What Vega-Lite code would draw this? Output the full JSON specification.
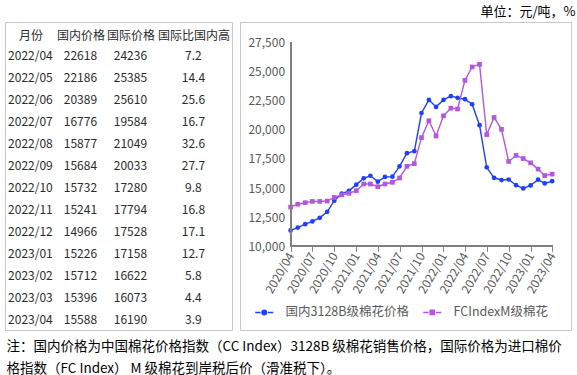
{
  "$schema": "https://vega.github.io/schema/vega-lite/v6.json",
  "background": "white",
  "padding": {"left": 4, "top": 5, "right": 5, "bottom": 0},
  "config": {"font": "Noto Sans CJK SC", "view": {"stroke": "#c8c8c8", "strokeWidth": 1}},
  "datasets": {
    "table": [
      {"月份": "2022/04", "国内价格": 22618, "国际价格": 24236, "国际比国内高": 7.2},
      {"月份": "2022/05", "国内价格": 22186, "国际价格": 25385, "国际比国内高": 14.4},
      {"月份": "2022/06", "国内价格": 20389, "国际价格": 25610, "国际比国内高": 25.6},
      {"月份": "2022/07", "国内价格": 16776, "国际价格": 19584, "国际比国内高": 16.7},
      {"月份": "2022/08", "国内价格": 15877, "国际价格": 21049, "国际比国内高": 32.6},
      {"月份": "2022/09", "国内价格": 15684, "国际价格": 20033, "国际比国内高": 27.7},
      {"月份": "2022/10", "国内价格": 15732, "国际价格": 17280, "国际比国内高": 9.8},
      {"月份": "2022/11", "国内价格": 15241, "国际价格": 17794, "国际比国内高": 16.8},
      {"月份": "2022/12", "国内价格": 14966, "国际价格": 17528, "国际比国内高": 17.1},
      {"月份": "2023/01", "国内价格": 15226, "国际价格": 17158, "国际比国内高": 12.7},
      {"月份": "2023/02", "国内价格": 15712, "国际价格": 16622, "国际比国内高": 5.8},
      {"月份": "2023/03", "国内价格": 15396, "国际价格": 16073, "国际比国内高": 4.4},
      {"月份": "2023/04", "国内价格": 15588, "国际价格": 16190, "国际比国内高": 3.9}
    ],
    "prices": [
      {"date": "2020/04/01", "国内3128B级棉花价格": 11360, "FCIndexM级棉花": 13370},
      {"date": "2020/05/01", "国内3128B级棉花价格": 11610, "FCIndexM级棉花": 13610},
      {"date": "2020/06/01", "国内3128B级棉花价格": 11900, "FCIndexM级棉花": 13740},
      {"date": "2020/07/01", "国内3128B级棉花价格": 12130, "FCIndexM级棉花": 13850},
      {"date": "2020/08/01", "国内3128B级棉花价格": 12440, "FCIndexM级棉花": 13850},
      {"date": "2020/09/01", "国内3128B级棉花价格": 12960, "FCIndexM级棉花": 13880},
      {"date": "2020/10/01", "国内3128B级棉花价格": 13910, "FCIndexM级棉花": 14190},
      {"date": "2020/11/01", "国内3128B级棉花价格": 14530, "FCIndexM级棉花": 14410},
      {"date": "2020/12/01", "国内3128B级棉花价格": 14760, "FCIndexM级棉花": 14550},
      {"date": "2021/01/01", "国内3128B级棉花价格": 15290, "FCIndexM级棉花": 14770},
      {"date": "2021/02/01", "国内3128B级棉花价格": 15830, "FCIndexM级棉花": 15345},
      {"date": "2021/03/01", "国内3128B级棉花价格": 16050, "FCIndexM级棉花": 15345},
      {"date": "2021/04/01", "国内3128B级棉花价格": 15545, "FCIndexM级棉花": 15115},
      {"date": "2021/05/01", "国内3128B级棉花价格": 15950, "FCIndexM级棉花": 15345},
      {"date": "2021/06/01", "国内3128B级棉花价格": 15975, "FCIndexM级棉花": 15490},
      {"date": "2021/07/01", "国内3128B级棉花价格": 16862, "FCIndexM级棉花": 15860},
      {"date": "2021/08/01", "国内3128B级棉花价格": 17990, "FCIndexM级棉花": 16862},
      {"date": "2021/09/01", "国内3128B级棉花价格": 18160, "FCIndexM级棉花": 17090},
      {"date": "2021/10/01", "国内3128B级棉花价格": 21435, "FCIndexM级棉花": 19320},
      {"date": "2021/11/01", "国内3128B级棉花价格": 22560, "FCIndexM级棉花": 20775},
      {"date": "2021/12/01", "国内3128B级棉花价格": 21960, "FCIndexM级棉花": 19460},
      {"date": "2022/01/01", "国内3128B级棉花价格": 22560, "FCIndexM级棉花": 21190},
      {"date": "2022/02/01", "国内3128B级棉花价格": 22890, "FCIndexM级棉花": 21850},
      {"date": "2022/03/01", "国内3128B级棉花价格": 22735, "FCIndexM级棉花": 21780},
      {"date": "2022/04/01", "国内3128B级棉花价格": 22618, "FCIndexM级棉花": 24236},
      {"date": "2022/05/01", "国内3128B级棉花价格": 22186, "FCIndexM级棉花": 25385},
      {"date": "2022/06/01", "国内3128B级棉花价格": 20389, "FCIndexM级棉花": 25610},
      {"date": "2022/07/01", "国内3128B级棉花价格": 16776, "FCIndexM级棉花": 19584},
      {"date": "2022/08/01", "国内3128B级棉花价格": 15877, "FCIndexM级棉花": 21049},
      {"date": "2022/09/01", "国内3128B级棉花价格": 15684, "FCIndexM级棉花": 20033},
      {"date": "2022/10/01", "国内3128B级棉花价格": 15732, "FCIndexM级棉花": 17280},
      {"date": "2022/11/01", "国内3128B级棉花价格": 15241, "FCIndexM级棉花": 17794},
      {"date": "2022/12/01", "国内3128B级棉花价格": 14966, "FCIndexM级棉花": 17528},
      {"date": "2023/01/01", "国内3128B级棉花价格": 15226, "FCIndexM级棉花": 17158},
      {"date": "2023/02/01", "国内3128B级棉花价格": 15712, "FCIndexM级棉花": 16622},
      {"date": "2023/03/01", "国内3128B级棉花价格": 15396, "FCIndexM级棉花": 16073},
      {"date": "2023/04/01", "国内3128B级棉花价格": 15588, "FCIndexM级棉花": 16190}
    ]
  },
  "title": {
    "text": ["注：国内价格为中国棉花价格指数（CC Index）3128B 级棉花销售价格，国际价格为进口棉价", "格指数（FC Index） M 级棉花到岸税后价（滑准税下）。"],
    "orient": "bottom",
    "anchor": "start",
    "fontSize": 13.5,
    "fontWeight": "normal",
    "lineHeight": 22,
    "color": "#000000",
    "offset": 9,
    "dx": 2
  },
  "vconcat": [
    {
      "title": {"text": "单位：元/吨，%", "anchor": "end", "fontSize": 13, "fontWeight": "normal", "color": "#000000", "offset": 3, "dx": 4},
      "spacing": 6,
      "hconcat": [
        {
          "width": 227,
          "height": 308,
          "data": {"name": "table"},
          "layer": [
            {
              "transform": [{"fold": ["月份", "国内价格", "国际价格"], "as": ["col", "val"]}],
              "mark": {"type": "text", "fontSize": 12, "color": "#2b2b2b", "baseline": "middle"},
              "encoding": {
                "x": {
                  "field": "col", "type": "nominal",
                  "scale": {"type": "point", "domain": ["月份", "国内价格", "国际价格", "国际比国内高"], "padding": 0.77, "align": 0.33},
                  "axis": {
                    "orient": "top", "title": null, "domain": false, "ticks": false, "labelAngle": 0,
                    "labelFontSize": 12, "labelColor": "#2b2b2b", "offset": -13, "labelPadding": 0, "labelBaseline": "middle",
                    "labelOffset": {"condition": {"test": "datum.value === '国际比国内高'", "value": 13}, "value": 0}
                  }
                },
                "y": {"field": "月份", "type": "ordinal", "sort": null, "scale": {"type": "point", "padding": 1.03, "align": 0.78}, "axis": null},
                "text": {"field": "val", "type": "nominal"}
              }
            },
            {
              "mark": {"type": "text", "fontSize": 12, "color": "#2b2b2b", "baseline": "middle", "dx": 13},
              "encoding": {
                "x": {"datum": "国际比国内高", "type": "nominal"},
                "y": {"field": "月份", "type": "ordinal", "sort": null},
                "text": {"field": "国际比国内高", "type": "nominal"}
              }
            }
          ]
        },
        {
          "width": 331,
          "height": 308,
          "data": {"name": "prices"},
          "transform": [{"fold": ["国内3128B级棉花价格", "FCIndexM级棉花"], "as": ["series", "price"]}],
          "encoding": {
            "x": {
              "field": "date", "type": "temporal",
              "scale": {"domain": [{"year": 2019, "month": 9, "date": 2}, {"year": 2023, "month": 6, "date": 19}]},
              "axis": {
                "title": null,
                "values": [
                  {"year": 2020, "month": 4, "date": 1}, {"year": 2020, "month": 7, "date": 1}, {"year": 2020, "month": 10, "date": 1},
                  {"year": 2021, "month": 1, "date": 1}, {"year": 2021, "month": 4, "date": 1}, {"year": 2021, "month": 7, "date": 1}, {"year": 2021, "month": 10, "date": 1},
                  {"year": 2022, "month": 1, "date": 1}, {"year": 2022, "month": 4, "date": 1}, {"year": 2022, "month": 7, "date": 1}, {"year": 2022, "month": 10, "date": 1},
                  {"year": 2023, "month": 1, "date": 1}, {"year": 2023, "month": 4, "date": 1}
                ],
                "format": "%Y/%m",
                "domain": false,
                "grid": false,
                "ticks": true,
                "tickSize": 5,
                "tickColor": "#808080",
                "offset": -83.7,
                "labelAngle": -60,
                "labelFontSize": 12,
                "labelColor": "#595959",
                "labelPadding": 2,
                "labelFlush": false,
                "labelOverlap": false
              }
            },
            "y": {
              "field": "price", "type": "quantitative",
              "scale": {"domain": [2820, 29241], "nice": false, "zero": false},
              "axis": {
                "title": null,
                "values": [10000, 12500, 15000, 17500, 20000, 22500, 25000, 27500],
                "format": ",.0f",
                "domain": false,
                "ticks": false,
                "grid": false,
                "offset": -50.6,
                "labelFontSize": 12,
                "labelColor": "#595959",
                "labelPadding": 6
              }
            }
          },
          "layer": [
            {
              "mark": {"type": "line", "strokeWidth": 1.4},
              "encoding": {
                "color": {
                  "field": "series", "type": "nominal",
                  "scale": {"domain": ["国内3128B级棉花价格", "FCIndexM级棉花"], "range": ["#1f3fff", "#b456e2"]},
                  "legend": {
                    "title": null,
                    "orient": "none",
                    "legendX": 253,
                    "legendY": 284,
                    "direction": "horizontal",
                    "padding": 0,
                    "labelFontSize": 12.5,
                    "labelColor": "#595959",
                    "labelOffset": 15,
                    "columnPadding": 11,
                    "symbolSize": 36,
                    "encode": {
                      "symbols": {
                        "update": {
                          "shape": {"signal": "datum.value === '国内3128B级棉花价格' ? 'M-3,0H-1.2M1.2,0H3M-0.75,0A0.75,0.75 0 1,0 0.75,0A0.75,0.75 0 1,0 -0.75,0Z' : 'M-3,0H-1.2M1.2,0H3M-0.7,-0.7H0.7V0.7H-0.7Z'"},
                          "fill": {"scale": "color", "field": "value"},
                          "stroke": {"scale": "color", "field": "value"},
                          "strokeWidth": {"value": 1.5},
                          "opacity": {"value": 1}
                        }
                      }
                    }
                  }
                }
              }
            },
            {
              "transform": [{"filter": "datum.series === '国内3128B级棉花价格'"}],
              "mark": {"type": "point", "filled": true, "opacity": 1, "size": 22, "shape": "circle"},
              "encoding": {"color": {"field": "series", "type": "nominal"}}
            },
            {
              "transform": [{"filter": "datum.series === 'FCIndexM级棉花'"}],
              "mark": {"type": "point", "filled": true, "opacity": 1, "size": 22, "shape": "square"},
              "encoding": {"color": {"field": "series", "type": "nominal"}}
            },
            {
              "mark": {"type": "rule", "color": "#808080", "strokeWidth": 1.3},
              "encoding": {
                "x": {"datum": {"year": 2020, "month": 4, "date": 1}, "type": "temporal"},
                "y": {"datum": 10000, "type": "quantitative"},
                "y2": {"datum": 27500}
              }
            },
            {
              "mark": {"type": "rule", "color": "#808080", "strokeWidth": 1.3},
              "encoding": {
                "y": {"datum": 10000, "type": "quantitative"},
                "x": {"datum": {"year": 2020, "month": 4, "date": 1}, "type": "temporal"},
                "x2": {"datum": {"year": 2023, "month": 4, "date": 1}}
              }
            }
          ]
        }
      ]
    }
  ]
}
